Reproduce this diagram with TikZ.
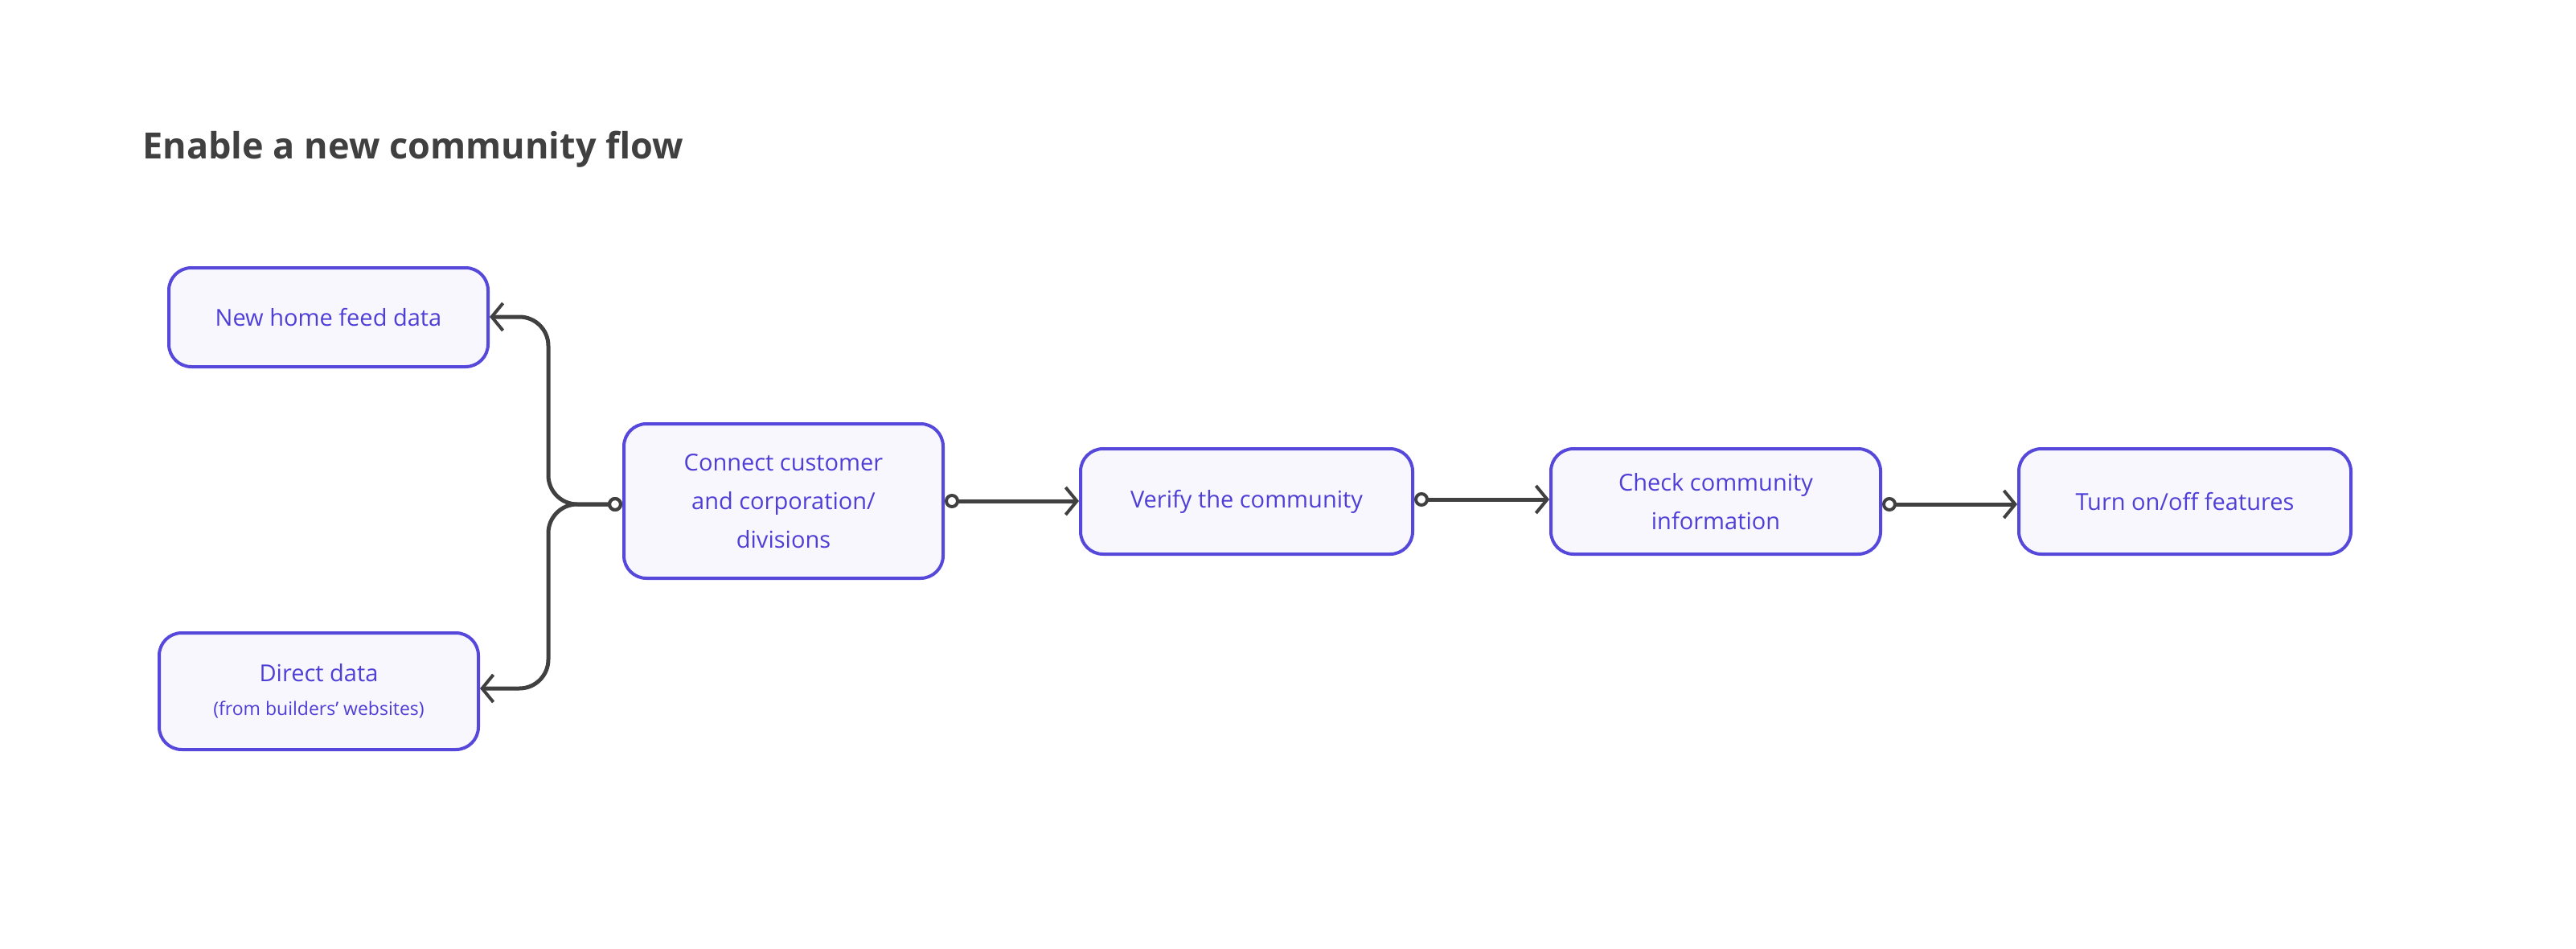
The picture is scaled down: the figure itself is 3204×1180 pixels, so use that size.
\documentclass[tikz,border=0pt]{standalone}
\usepackage{fontspec}
\setmainfont{Open Sans}
\usetikzlibrary{arrows.meta}
\definecolor{bd}{HTML}{5748DC}
\definecolor{fl}{HTML}{F7F7FD}
\definecolor{tx}{HTML}{4F3FD6}
\definecolor{ln}{HTML}{404040}
\begin{document}
\begin{tikzpicture}[x=1pt,y=-1pt,
  box/.style={draw=bd,fill=fl,line width=4pt,rounded corners=28pt,text=tx,align=center,
    font=\fontsize{29}{48}\selectfont,inner sep=0pt,anchor=north west},
  conn/.style={draw=ln,line width=5pt,{Circle[open,length=18pt,width=18pt,line width=4pt]}-{Straight Barb[length=14pt,width=34pt,line width=4pt]}},
  br/.style={conn,rounded corners=36pt}]
\useasboundingbox (0,0) rectangle (3204,1180);
\node[anchor=west,text=ln,font=\fontsize{45}{54}\selectfont\bfseries] (t) at (174,186) {Enable a new community flow};
\node[box,minimum width=397pt,minimum height=123pt] (A) at (208,331) {New home feed data};
\node[box,minimum width=397pt,minimum height=145pt] (B) at (196,785) {Direct data\\[-6pt]{\fontsize{23}{30}\selectfont (from builders’ websites)}};
\node[box,minimum width=397pt,minimum height=192pt] (C) at (774,525) {Connect customer\\and corporation/\\divisions};
\node[box,minimum width=413pt,minimum height=131pt] (D) at (1342,556) {Verify the community};
\node[box,minimum width=410pt,minimum height=131pt] (E) at (1927,556) {Check community\\information};
\node[box,minimum width=413pt,minimum height=131pt] (F) at (2509,556) {Turn on/off features};
\coordinate (j) at (682,627);
\draw[br] (C.west |- j) -- (j) |- (A.east |- 0,394);
\draw[br] (C.west |- j) -- (j) |- (B.east |- 0,856);
\draw[conn] (C.east |- 0,623) -- (D.west |- 0,623);
\draw[conn] (D.east |- 0,621) -- (E.west |- 0,621);
\draw[conn] (E.east |- 0,627) -- (F.west |- 0,627);
\end{tikzpicture}
\end{document}
